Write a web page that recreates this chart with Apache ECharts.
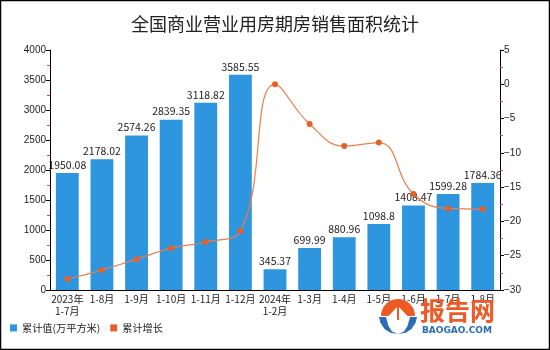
<!DOCTYPE html>
<html>
<head>
<meta charset="utf-8">
<script src="https://cdn.jsdelivr.net/npm/echarts@6/dist/echarts.min.js"></script>
<style>
  html, body { margin: 0; padding: 0; background: #fff; }
  #chart { width: 550px; height: 350px; }
</style>
</head>
<body>
<div id="chart"></div>
<script>
// Cumulative floor area of commercial premises sold off-plan
const categories = ['2023年\n1-7月', '1-8月', '1-9月', '1-10月', '1-11月', '1-12月',
  '2024年\n1-2月', '1-3月', '1-4月', '1-5月', '1-6月', '1-7月', '1-8月'];
const cumulativeArea = [1950.08, 2178.02, 2574.26, 2839.35, 3118.82, 3585.55,
  345.37, 699.99, 880.96, 1098.8, 1408.47, 1599.28, 1784.36];
const cumulativeGrowth = [-28.4, -27.1, -25.5, -23.9, -23.0, -21.4,
  0.0, -5.8, -9.0, -8.5, -16.0, -18.1, -18.2];
const leftTicks = { min: 0, max: 4000, interval: 500 };
const rightTicks = { min: -30, max: 5, interval: 5 };

const chart = echarts.init(document.getElementById('chart'), null, { renderer: 'canvas' });

const axisCommon = {
  axisLine: { show: true, lineStyle: { color: '#000', width: 1 } },
  axisTick: { show: true, length: 4, lineStyle: { color: '#000' } },
  minorTick: { show: true, splitNumber: 2, length: 3, lineStyle: { color: '#e0463c' } },
  splitLine: { show: false },
  minorSplitLine: { show: false },
  axisLabel: {
    color: '#222', fontSize: 10, fontFamily: 'Liberation Sans, Arial, sans-serif', margin: 4,
    showMinLabel: true, showMaxLabel: true,
    formatter: v => String(v).replace('-', '\u2212')
  }
};

// left wing of the brand mark; the right one is its mirror image
const wingLeft = [[379, 317], [380.5, 323], [384.8, 329.3], [390.5, 332.8], [398, 334],
  [392, 331.5], [388.5, 326], [386, 317]];
const wingRight = wingLeft.map(p => [796 - p[0], p[1]]);

chart.setOption({
  backgroundColor: '#fff',
  animation: false,
  title: {
    text: '全国商业营业用房期房销售面积统计',
    left: 'center',
    top: 10,
    textStyle: { fontSize: 18, fontWeight: 'normal', color: '#222', fontFamily: 'Noto Sans CJK SC' }
  },
  legend: {
    left: 5,
    bottom: 12,
    itemWidth: 7,
    itemHeight: 7,
    itemGap: 10,
    icon: 'rect',
    textStyle: { fontSize: 10.2, color: '#222', fontFamily: 'Noto Sans CJK SC' },
    data: ['累计值(万平方米)', '累计增长']
  },
  grid: { left: 50, right: 50, top: 50, bottom: 60, containLabel: false },
  xAxis: {
    type: 'category',
    data: categories,
    axisLine: { show: true, lineStyle: { color: '#000' } },
    axisTick: { show: false },
    axisLabel: {
      color: '#222', fontSize: 10, interval: 0, margin: 3, lineHeight: 12,
      fontFamily: 'Noto Sans CJK SC'
    }
  },
  yAxis: [
    Object.assign({ type: 'value', position: 'left' }, leftTicks, axisCommon),
    Object.assign({ type: 'value', position: 'right' }, rightTicks, axisCommon)
  ],
  series: [
    {
      name: '累计值(万平方米)',
      type: 'bar',
      data: cumulativeArea,
      barWidth: '66%',
      itemStyle: { color: '#2e95df' },
      label: {
        show: true, position: 'top', distance: 3,
        color: '#222', fontSize: 10.5, fontFamily: 'Noto Sans CJK SC',
        formatter: p => String(p.value)
      }
    },
    {
      name: '累计增长',
      type: 'line',
      yAxisIndex: 1,
      data: cumulativeGrowth,
      smooth: 0.45,
      symbol: 'circle',
      symbolSize: 6,
      lineStyle: { color: '#ee7b48', width: 1.2 },
      itemStyle: { color: '#e3622b' }
    }
  ],
  graphic: [
    { type: 'rect', shape: { x: 0.5, y: 0.5, width: 549, height: 349 },
      style: { fill: 'none', stroke: '#000', lineWidth: 1.5 }, silent: true, z: 100 },
    // brand mark, bottom right
    { type: 'sector', shape: { cx: 398, cy: 316, r: 17, r0: 0, startAngle: Math.PI, endAngle: 2 * Math.PI },
      style: { fill: '#ee5a26' }, silent: true, z: 50 },
    { type: 'polygon', shape: { points: [[388, 316.5], [408, 316.5], [398, 306]] },
      style: { fill: '#fff' }, silent: true, z: 51 },
    { type: 'rect', shape: { x: 397, y: 306, width: 2, height: 14 },
      style: { fill: '#ee5a26' }, silent: true, z: 52 },
    { type: 'polygon', shape: { points: wingLeft }, style: { fill: '#2b6cb3' }, silent: true, z: 50 },
    { type: 'polygon', shape: { points: wingRight }, style: { fill: '#2b6cb3' }, silent: true, z: 50 },
    { type: 'text', left: 420, top: 298,
      style: { text: '报告网', fill: '#ee5a26', font: 'bold 25px "Noto Sans CJK SC"' }, silent: true, z: 50 },
    { type: 'text', left: 422, top: 326,
      style: { text: 'BAOGAO.COM', fill: '#2b6cb3', font: 'bold 9px "DejaVu Sans", sans-serif' }, silent: true, z: 50 }
  ]
});
</script>
</body>
</html>
